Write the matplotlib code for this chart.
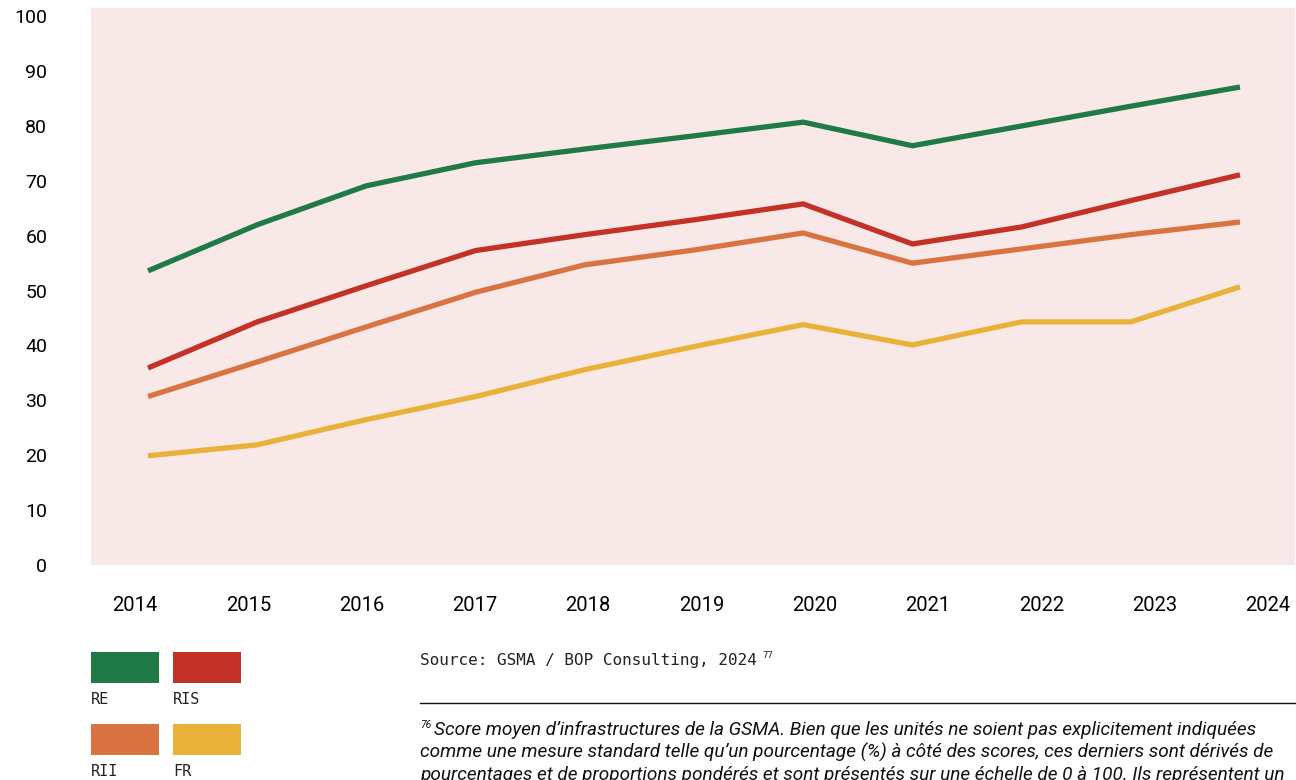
import matplotlib
matplotlib.use("Agg")
import matplotlib.pyplot as plt
from matplotlib.patches import Rectangle
from matplotlib.lines import Line2D
import numpy as np

years = [2014, 2015, 2016, 2017, 2018, 2019, 2020, 2021, 2022, 2023, 2024]
series_names = ["RE", "RIS", "RII", "FR"]
re_vals = [53.6, 62.0, 69.1, 73.3, 75.8, 78.2, 80.7, 76.4, 80.0, 83.6, 87.1]
ris_vals = [35.9, 44.3, 50.9, 57.3, 60.2, 62.9, 65.8, 58.5, 61.6, 66.4, 71.1]
rii_vals = [30.7, 37.0, 43.4, 49.7, 54.7, 57.4, 60.5, 55.0, 57.6, 60.2, 62.5]
fr_vals = [19.9, 21.9, 26.5, 30.7, 35.6, 39.8, 43.8, 40.1, 44.3, 44.3, 50.7]
y_ticks = [0, 10, 20, 30, 40, 50, 60, 70, 80, 90, 100]
colors = ["#1f7a47", "#c43127", "#d97342", "#e8b23a"]

source_text = "Source: GSMA / BOP Consulting, 2024"
source_sup = "77"
note_sup = "76"
note_lines = [
    "Score moyen d\u2019infrastructures de la GSMA. Bien que les unit\u00e9s ne soient pas explicitement indiqu\u00e9es",
    "comme une mesure standard telle qu\u2019un pourcentage (%) \u00e0 c\u00f4t\u00e9 des scores, ces derniers sont d\u00e9riv\u00e9s de",
    "pourcentages et de proportions pond\u00e9r\u00e9s et sont pr\u00e9sent\u00e9s sur une \u00e9chelle de 0 \u00e0 100. Ils repr\u00e9sentent un",
]

W, H = 1296, 780
fig = plt.figure(figsize=(W / 100, H / 100), dpi=100)

def fx(x):
    return x / W

def fy(y):
    return 1 - y / H

ax = fig.add_axes([fx(91), fy(565), (1295 - 91) / W, (565 - 8) / H])
ax.set_facecolor("#f8e8e8")
for s in ax.spines.values():
    s.set_visible(False)

all_vals = [re_vals, ris_vals, rii_vals, fr_vals]
for vals, c in zip(all_vals, colors):
    ax.plot(years, vals, color=c, lw=3.8, solid_joinstyle="miter", solid_capstyle="butt")

ax.set_xlim(2013.478, 2024.504)
ax.set_ylim(0, 101.5)
ax.set_yticks(y_ticks)
ax.set_yticklabels([str(t) for t in y_ticks], fontsize=14, family="Roboto")
ax.tick_params(axis="y", length=0, pad=31.5)
for lab in ax.get_yticklabels():
    lab.set_horizontalalignment("right")

tick_pos = np.linspace(2013.881, 2024.256, len(years))
ax.set_xticks(tick_pos)
ax.set_xticklabels([str(y) for y in years], fontsize=14.5, family="Roboto")
ax.tick_params(axis="x", length=0, pad=22)

# legend blocks
leg = [(91, 652, 0), (173, 652, 1), (91, 724, 2), (173, 724, 3)]
for x0, y0, i in leg:
    fig.add_artist(Rectangle((fx(x0), fy(y0 + 31)), 68 / W, 31 / H,
                             transform=fig.transFigure, color=colors[i], lw=0))
    fig.text(fx(x0), fy(y0 + 48), series_names[i], fontsize=11,
             family="DejaVu Sans Mono", va="center", ha="left", color="#222222")

# source
fig.text(fx(420), fy(660), source_text, fontsize=11.5, family="DejaVu Sans Mono",
         va="center", ha="left", color="#222222")
fig.text(fx(762), fy(655), source_sup, fontsize=6.5, family="DejaVu Sans Mono",
         va="center", ha="left", color="#222222")

fig.add_artist(Line2D([fx(420), fx(1295)], [fy(703), fy(703)], transform=fig.transFigure,
                      color="#111111", lw=1.0))

fig.text(fx(420), fy(725), note_sup, fontsize=7.5, family="Roboto", style="italic",
         va="center", ha="left", color="#111111")
for k, line in enumerate(note_lines):
    xs = 434 if k == 0 else 420
    fig.text(fx(xs), fy(730 + 22.5 * k), line, fontsize=13.7, family="Roboto",
             style="italic", va="center", ha="left", color="#111111")

fig.savefig("out.png", dpi=100)
